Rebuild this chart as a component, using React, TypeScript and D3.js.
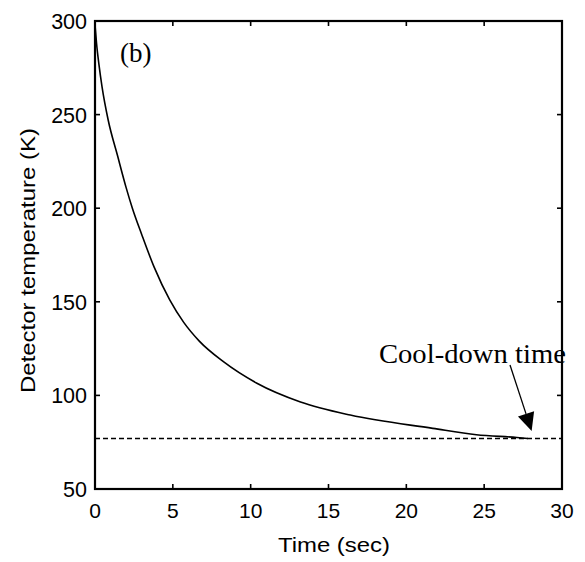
import React from "react";
import * as d3 from "d3";

// ---- data ----
const timeSec = [0, 0.1, 0.25, 0.45, 0.85, 1.45, 2.0, 2.4, 3.0, 3.8, 4.8, 5.7, 6.7, 8.25, 10.4, 13.2, 16.4, 21.7, 24.5, 27.1, 27.8];
const tempK = [298, 288, 277, 265, 247, 228, 211, 200, 186, 168.5, 151, 139, 129, 118, 106.5, 96.5, 89.5, 82.4, 79.0, 77.5, 77];
const targetTemp = 77;
const xTicks = [0, 5, 10, 15, 20, 25, 30];
const yTicks = [50, 100, 150, 200, 250, 300];
const xDomain = [0, 30];
const yDomain = [50, 300];

// annotation anchors (data coordinates)
const panelLabel = { text: "(b)", t: 1.6, T: 278.3 };
const coolLabel = { text: "Cool-down time", t: 18.24, T: 117.1 };
const arrowFrom = { t: 26.66, T: 116.2 };
const arrowTo = { t: 28.05, T: 81 };

const W = 585, H = 562;
const M = { left: 95, right: 562, top: 21, bottom: 489 };

export default function App() {
  const x = d3.scaleLinear().domain(xDomain).range([M.left, M.right]);
  const y = d3.scaleLinear().domain(yDomain).range([M.bottom, M.top]);
  const pts = timeSec.map((t, i) => [t, tempK[i]] as [number, number]);
  const line = d3.line<[number, number]>().x(d => x(d[0])).y(d => y(d[1])).curve(d3.curveMonotoneX);
  const sans = "'Liberation Sans', Arial, Helvetica, sans-serif";
  const serif = "'Liberation Serif', 'Times New Roman', serif";
  const tick = 5;

  // arrow geometry
  const ax1 = x(arrowFrom.t), ay1 = y(arrowFrom.T);
  const ax2 = x(arrowTo.t), ay2 = y(arrowTo.T);
  const ang = Math.atan2(ay2 - ay1, ax2 - ax1);
  const headLen = 18, headHalf = 8.5;
  const bx = ax2 - headLen * Math.cos(ang), by = ay2 - headLen * Math.sin(ang);
  const px = -Math.sin(ang) * headHalf, py = Math.cos(ang) * headHalf;
  const head = `M${ax2},${ay2}L${bx + px},${by + py}L${bx - px},${by - py}Z`;

  return (
    <svg width={W} height={H} style={{ position: "absolute", left: 0, top: 0, background: "#fff" }}>
      {/* dashed target line */}
      <line x1={x(xDomain[0])} x2={x(xDomain[1])} y1={y(targetTemp)} y2={y(targetTemp)}
        stroke="#000" strokeWidth={1.5} strokeDasharray="5,3" />
      {/* curve */}
      <path d={line(pts) || ""} fill="none" stroke="#000" strokeWidth={1.6} />
      {/* frame */}
      <rect x={M.left} y={M.top} width={M.right - M.left} height={M.bottom - M.top}
        fill="none" stroke="#000" strokeWidth={2.2} />
      {/* x ticks */}
      {xTicks.map(v => (
        <g key={"x" + v}>
          <line x1={x(v)} x2={x(v)} y1={M.bottom} y2={M.bottom - tick} stroke="#000" strokeWidth={1.6} />
          <line x1={x(v)} x2={x(v)} y1={M.top} y2={M.top + tick} stroke="#000" strokeWidth={1.6} />
          <text x={x(v)} y={518} textAnchor="middle" fontFamily={sans} fontSize={21} fill="#000">{v}</text>
        </g>
      ))}
      {/* y ticks */}
      {yTicks.map(v => (
        <g key={"y" + v}>
          <line x1={M.left} x2={M.left + tick} y1={y(v)} y2={y(v)} stroke="#000" strokeWidth={1.6} />
          <line x1={M.right} x2={M.right - tick} y1={y(v)} y2={y(v)} stroke="#000" strokeWidth={1.6} />
          <text x={87} y={y(v) + 8} textAnchor="end" fontFamily={sans} fontSize={21.5} fill="#000">{v}</text>
        </g>
      ))}
      {/* axis labels */}
      <text x={334} y={551.5} textAnchor="middle" fontFamily={sans} fontSize={21}
        textLength={112} lengthAdjust="spacingAndGlyphs" fill="#000">Time (sec)</text>
      <text transform={`translate(35,260.5) rotate(-90)`} textAnchor="middle" fontFamily={sans} fontSize={21}
        textLength={265} lengthAdjust="spacingAndGlyphs" fill="#000">Detector temperature (K)</text>
      {/* annotations */}
      <text x={x(panelLabel.t)} y={y(panelLabel.T)} fontFamily={serif} fontSize={27} fill="#000">{panelLabel.text}</text>
      <text x={x(coolLabel.t)} y={y(coolLabel.T)} fontFamily={serif} fontSize={27}
        textLength={187} lengthAdjust="spacingAndGlyphs" fill="#000">{coolLabel.text}</text>
      <line x1={ax1} y1={ay1} x2={bx} y2={by} stroke="#000" strokeWidth={1.3} />
      <path d={head} fill="#000" />
    </svg>
  );
}
